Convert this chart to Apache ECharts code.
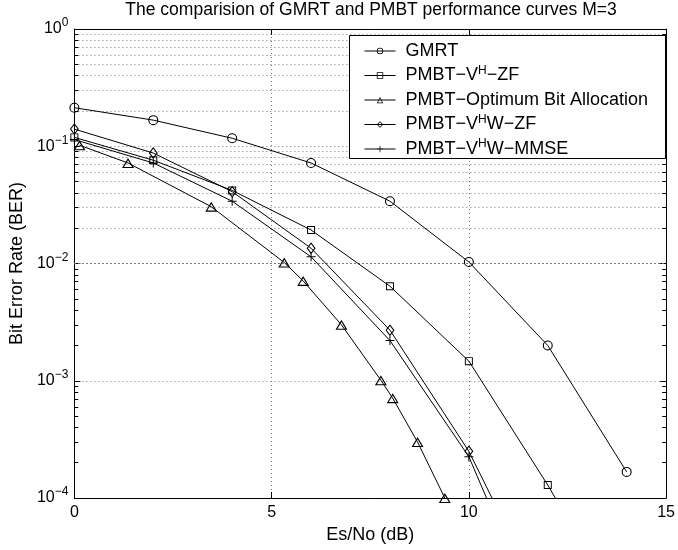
<!DOCTYPE html>
<html>
<head>
<meta charset="utf-8">
<script src="https://cdn.jsdelivr.net/npm/echarts@6/dist/echarts.min.js"></script>
<style>html,body{margin:0;padding:0;background:#fff}#c{width:678px;height:550px}</style>
</head>
<body>
<div id="c"></div>
<script>
// ---- data ----
const titleText = 'The comparision of GMRT and PMBT performance curves M=3';
const xName = 'Es/No (dB)';
const yName = 'Bit Error Rate (BER)';
const seriesNames = ['GMRT', 'PMBT−V{sup|H}−ZF', 'PMBT−Optimum Bit Allocation', 'PMBT−V{sup|H}W−ZF', 'PMBT−V{sup|H}W−MMSE'];
const gmrt = [[0,0.213],[2,0.167],[4,0.117],[6,0.072],[8,0.034],[10,0.0103],[12,0.002],[14,1.67e-4]];
const vhzf = [[0,0.119],[2,0.076],[4,0.042],[6,0.0193],[8,0.0064],[10,0.00147],[12,1.29e-4],[14,9e-6]];
const optBit = [[0.13,0.102],[1.36,0.072],[3.47,0.0305],[5.32,0.0102],[5.8,0.0071],[6.77,0.003],[7.77,0.00101],[8.07,0.00071],[8.7,0.0003],[9.39,0.0001]];
const vhwzf = [[0,0.14],[2,0.0875],[4,0.041],[6,0.0135],[8,0.0027],[10,0.00025],[12,1.1e-5]];
const vhwmmse = [[0,0.114],[2,0.072],[4,0.034],[6,0.0114],[8,0.0022],[10,0.000225],[12,6e-6]];
const xTicks = [0, 5, 10, 15];
const yMinorGrid = [];
[1e-4,1e-3,1e-2,1e-1].forEach(function(d){ for (let k=2;k<=9;k++) yMinorGrid.push(+(k*d).toPrecision(3)); });

// ---- chart ----
const FONT = 'Liberation Sans';
const chart = echarts.init(document.getElementById('c'), null, {renderer:'canvas'});
// outline marker shapes drawn as rings (hollow, thin)
const ringCircle = 'path://M0,5A5,5 0 1,1 10,5A5,5 0 1,1 0,5ZM1.1,5A3.9,3.9 0 1,0 8.9,5A3.9,3.9 0 1,0 1.1,5Z';
const ringRect = 'path://M0,0H10V10H0ZM1.2,1.2V8.8H8.8V1.2Z';
const ringTri = 'path://M5,0L10,10L0,10ZM5,2.3L1.65,8.9L8.35,8.9Z';
const ringDia = 'path://M5,0L10,5L5,10L0,5ZM5,1.45L1.45,5L5,8.55L8.55,5Z';
const plusPath = 'path://M4.45,0H5.55V4.45H10V5.55H5.55V10H4.45V5.55H0V4.45H4.45Z';
const symbols = [ringCircle, ringRect, ringTri, ringDia, plusPath];
const sizes = [10, 8, [12,10], [9,12], 9];
const datas = [gmrt, vhzf, optBit, vhwzf, vhwmmse];
const gridDot = {show:true, lineStyle:{color:'#777', type:[1,3], width:1}};

const series = datas.map(function(d,i){
  return {
    name: seriesNames[i], type:'line', data:d, symbol:symbols[i], symbolSize:sizes[i],
    showAllSymbol:true, clip:true,
    lineStyle:{color:'#000', width:1},
    itemStyle:{color:'#000', borderWidth:0},
    emphasis:{disabled:true}, animation:false, z:5
  };
});
// minor grid lines and minor ticks (left/right) at 2..9 x 10^k
const minorTickData = [];
yMinorGrid.forEach(function(v){
  minorTickData.push([{coord:[0, v]}, {coord:[0.1, v]}]);
  minorTickData.push([{coord:[14.9, v]}, {coord:[15, v]}]);
});
series.push({
  type:'line', data:[], silent:true, animation:false,
  markLine:{silent:true, symbol:'none', label:{show:false}, animation:false,
    lineStyle:{color:'#777', type:[1,3], width:1},
    data: yMinorGrid.map(function(v){ return {yAxis:v}; })}
});
series.push({
  type:'line', data:[], silent:true, animation:false, z:6,
  markLine:{silent:true, symbol:'none', label:{show:false}, animation:false,
    lineStyle:{color:'#000', type:'solid', width:1},
    data: minorTickData}
});

const option = {
  backgroundColor:'#fff',
  animation:false,
  textStyle:{fontFamily:FONT},
  grid:{left:74, right:9, top:29, bottom:52, show:false},
  xAxis:[{
    type:'value', min:0, max:15, interval:5, position:'bottom',
    name:xName, nameLocation:'middle', nameGap:24,
    nameTextStyle:{fontFamily:FONT, fontSize:18, color:'#000'},
    axisLine:{show:true, onZero:false, lineStyle:{color:'#000', width:1}},
    axisTick:{show:true, inside:true, length:6, lineStyle:{color:'#000'}},
    axisLabel:{fontFamily:FONT, fontSize:16, color:'#000', margin:7,
      formatter:function(v){ return xTicks.indexOf(v)>=0 ? String(v) : ''; }},
    splitLine:gridDot
  },{
    type:'value', min:0, max:15, interval:5, position:'top',
    axisLine:{show:true, onZero:false, lineStyle:{color:'#000', width:1}},
    axisTick:{show:true, inside:true, length:6, lineStyle:{color:'#000'}},
    axisLabel:{show:false}, splitLine:{show:false}
  }],
  yAxis:[{
    type:'log', logBase:10, min:1e-4, max:1, position:'left',
    name:yName, nameLocation:'middle', nameGap:46, nameRotate:90,
    nameTextStyle:{fontFamily:FONT, fontSize:18, color:'#000'},
    axisLine:{show:true, onZero:false, lineStyle:{color:'#000', width:1}},
    axisTick:{show:true, inside:true, length:6, lineStyle:{color:'#000'}},
    axisLabel:{fontFamily:FONT, fontSize:16, color:'#000', margin:6,
      formatter:function(v){ const e = Math.round(Math.log10(v)); return '10{sup|' + (e<0 ? '−'+(-e) : e) + '}'; },
      rich:{sup:{fontFamily:FONT, fontSize:12, color:'#000', padding:[0,0,12,0]}}},
    splitLine:gridDot
  },{
    type:'log', logBase:10, min:1e-4, max:1, position:'right',
    axisLine:{show:true, onZero:false, lineStyle:{color:'#000', width:1}},
    axisTick:{show:true, inside:true, length:6, lineStyle:{color:'#000'}},
    axisLabel:{show:false}, splitLine:{show:false}
  }],
  legend:{
    orient:'vertical', left:359, top:35, itemWidth:31, itemHeight:8, itemGap:2.5, z:10,
    selectedMode:false, inactiveColor:'#000',
    lineStyle:{width:1}, itemStyle:{borderWidth:0},
    textStyle:{fontFamily:FONT, fontSize:18, color:'#000', lineHeight:22, padding:[0,0,0,5],
      rich:{sup:{fontFamily:FONT, fontSize:12, color:'#000', lineHeight:22, verticalAlign:'top'}}},
    data: seriesNames.map(function(n){ return {name:n}; })
  },
  graphic:[
    {type:'rect', left:349, top:35, z:8,
      shape:{width:316, height:123}, style:{fill:'#fff', stroke:'#000', lineWidth:1}},
    {type:'text', x:371, y:10, z:10,
      style:{text:titleText, fill:'#000', font:'17.5px "Liberation Sans"', align:'center', verticalAlign:'middle'}}
  ],
  series:series
};
chart.setOption(option);
</script>
</body>
</html>
